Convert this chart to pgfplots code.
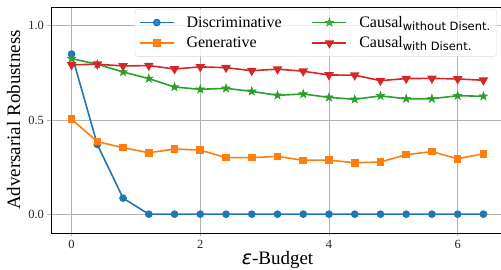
\documentclass[border=0pt]{standalone}
\usepackage{fontspec}
\setmainfont{Liberation Serif}
\newfontfamily\dvs{DejaVu Sans}
\usepackage{pgfplots}
\pgfplotsset{compat=1.18}
\definecolor{tabblue}{HTML}{1F77B4}
\definecolor{taborange}{HTML}{FF7F0E}
\definecolor{tabgreen}{HTML}{2CA02C}
\definecolor{tabred}{HTML}{D62728}
\pgfdeclareplotmark{fstar}{%
  \pgfpathmoveto{\pgfpointpolar{90}{\pgfplotmarksize}}%
  \pgfpathlineto{\pgfpointpolar{126}{0.4\pgfplotmarksize}}%
  \pgfpathlineto{\pgfpointpolar{162}{\pgfplotmarksize}}%
  \pgfpathlineto{\pgfpointpolar{198}{0.4\pgfplotmarksize}}%
  \pgfpathlineto{\pgfpointpolar{234}{\pgfplotmarksize}}%
  \pgfpathlineto{\pgfpointpolar{270}{0.4\pgfplotmarksize}}%
  \pgfpathlineto{\pgfpointpolar{306}{\pgfplotmarksize}}%
  \pgfpathlineto{\pgfpointpolar{342}{0.4\pgfplotmarksize}}%
  \pgfpathlineto{\pgfpointpolar{18}{\pgfplotmarksize}}%
  \pgfpathlineto{\pgfpointpolar{54}{0.4\pgfplotmarksize}}%
  \pgfpathclose
  \pgfusepathqfillstroke}
\begin{document}
\begin{tikzpicture}
\begin{axis}[
  scale only axis, width=453pt, height=226pt,
  xmin=-0.32, xmax=6.72, ymin=-0.1, ymax=1.1,
  xtick={0,2,4,6}, ytick={0,0.5,1},
  /pgf/number format/assume math mode=true,
  yticklabel style={/pgf/number format/.cd, fixed, fixed zerofill, precision=1},
  tick label style={font=\fontsize{12.5}{14}\selectfont, text=black!85},
  grid=major,
  major grid style={color=black!30, line width=0.8pt},
  tick align=outside, tick pos=left, major tick length=3.5pt,
  tick style={color=black!30, line width=0.8pt},
  axis line style={line width=0.9pt, black},
  xlabel={{\dvs\itshape ε}-Budget},
  ylabel={Adversarial Robustness},
  xlabel style={font=\fontsize{19}{21}\selectfont, at={(axis description cs:0.5,0)}, anchor=base, yshift=-32pt},
  ylabel style={font=\fontsize{19}{21}\selectfont, at={(axis description cs:-0.06,0.5)}, anchor=south},
  legend columns=2,
  legend style={at={(rel axis cs:0.9845,0.991)}, anchor=north east,
    draw=black!15, rounded corners=3pt, fill=white, fill opacity=0.8, text opacity=1,
    font=\fontsize{16}{18}\selectfont, row sep=4pt, inner xsep=4pt, inner ysep=5pt,
    /tikz/every odd column/.append style={column sep=10pt},
    /tikz/every even column/.append style={column sep=28pt}},
  legend cell align=left,
  legend image code/.code={\draw[mark repeat=2,mark phase=2] plot coordinates {(0pt,0pt) (17pt,0pt) (34pt,0pt)};},
  every axis plot/.append style={line width=1.6pt},
]
\addplot[tabblue, mark=*, mark size=3pt] coordinates {
(0,0.85) (0.4,0.37) (0.8,0.085) (1.2,0) (1.6,0) (2.0,0) (2.4,0) (2.8,0) (3.2,0) (3.6,0) (4.0,0) (4.4,0) (4.8,0) (5.2,0) (5.6,0) (6.0,0) (6.4,0)};
\addlegendentry{Discriminative}
\addplot[tabgreen, mark=fstar, mark size=4.5pt, mark options={line width=0.5pt}] coordinates {
(0,0.826) (0.4,0.796) (0.8,0.755) (1.2,0.72) (1.6,0.675) (2.0,0.663) (2.4,0.668) (2.8,0.652) (3.2,0.631) (3.6,0.638) (4.0,0.62) (4.4,0.61) (4.8,0.628) (5.2,0.613) (5.6,0.613) (6.0,0.629) (6.4,0.626)};
\addlegendentry{Causal\textsubscript{\dvs\fontsize{11.5}{13}\selectfont without Disent.}}
\addplot[taborange, mark=square*, mark size=3pt] coordinates {
(0,0.504) (0.4,0.385) (0.8,0.353) (1.2,0.326) (1.6,0.346) (2.0,0.34) (2.4,0.30) (2.8,0.30) (3.2,0.307) (3.6,0.286) (4.0,0.287) (4.4,0.273) (4.8,0.277) (5.2,0.316) (5.6,0.332) (6.0,0.294) (6.4,0.321)};
\addlegendentry{Generative}
\addplot[tabred, mark=triangle*, mark size=4pt, mark options={rotate=180}] coordinates {
(0,0.793) (0.4,0.796) (0.8,0.787) (1.2,0.789) (1.6,0.771) (2.0,0.782) (2.4,0.778) (2.8,0.762) (3.2,0.77) (3.6,0.759) (4.0,0.739) (4.4,0.738) (4.8,0.709) (5.2,0.72) (5.6,0.721) (6.0,0.718) (6.4,0.711)};
\addlegendentry{Causal\textsubscript{\dvs\fontsize{11.5}{13}\selectfont with Disent.}}
\end{axis}
\pgfresetboundingbox
\path[use as bounding box] ([shift={(-51pt,-37pt)}]current axis.south west) rectangle ([shift={(450pt,233pt)}]current axis.south west);
\end{tikzpicture}
\end{document}
